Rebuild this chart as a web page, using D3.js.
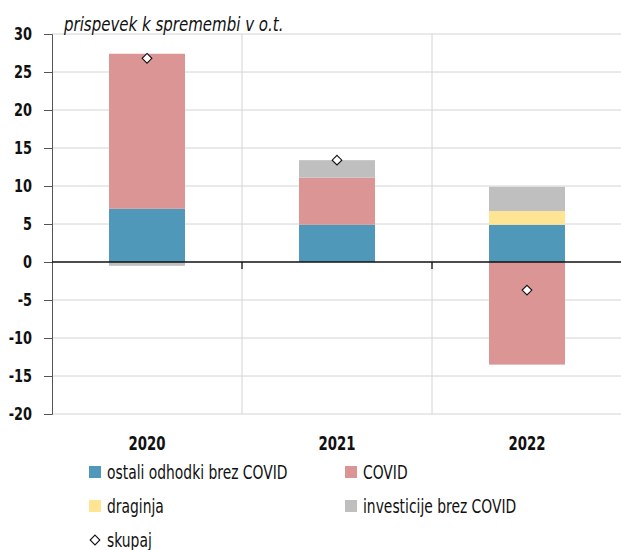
<!DOCTYPE html>
<html>
<head>
<meta charset="utf-8">
<title>Prispevek k spremembi</title>
<script src="https://cdnjs.cloudflare.com/ajax/libs/d3/7.8.5/d3.min.js"></script>
<style>
    body { margin: 0; background: #fff; }
    text { font-family: "DejaVu Sans", sans-serif; fill: #111; }
    .y-axis .tick text { font-size: 17px; font-weight: bold; }
    .x-axis .tick text { font-size: 19px; font-weight: bold; }
    .legend text { font-size: 19px; }
    .title { font-size: 19px; font-style: italic; }
</style>
</head>
<body>
<svg id="chart" width="621" height="550"></svg>
<script>
    var years = ["2020", "2021", "2022"];
    var seriesNames = ["ostali odhodki brez COVID", "COVID", "draginja", "investicije brez COVID"];
    var seriesColors = ["#4f98b9", "#da9594", "#ffe494", "#bfbfbf"];
    var ostali = [7.0, 4.9, 4.9];
    var covid = [20.4, 6.2, -13.5];
    var draginja = [0, 0, 1.8];
    var investicije = [-0.5, 2.3, 3.2];
    var skupaj = [26.8, 13.4, -3.7];
    var yTicks = [-20, -15, -10, -5, 0, 5, 10, 15, 20, 25, 30];

    var svg = d3.select("#chart"),
        plotLeft = 52, plotRight = 622, plotTop = 34, plotBottom = 414;

    // the original uses a narrow typeface, squeeze the text horizontally
    function condense(sel, k) {
        sel.each(function() {
            var w = this.getComputedTextLength();
            d3.select(this).attr("textLength", w * k).attr("lengthAdjust", "spacingAndGlyphs");
        });
    }

    var x = d3.scaleBand().domain(years).range([plotLeft, plotRight]).paddingInner(0.6).paddingOuter(0.3);
    var xGrid = d3.scaleBand().domain(years).range([plotLeft, plotRight]);
    var y = d3.scaleLinear().domain([-20, 30]).range([plotBottom, plotTop]);

    // gridlines
    svg.append("g").selectAll("line").data(yTicks.filter(function(d) { return d !== 0; }))
        .enter().append("line")
        .attr("x1", plotLeft).attr("x2", plotRight)
        .attr("y1", function(d) { return y(d); }).attr("y2", function(d) { return y(d); })
        .attr("stroke", "#d4d4d4").attr("stroke-width", 1);
    svg.append("g").selectAll("line").data(years.slice(1))
        .enter().append("line")
        .attr("x1", function(d) { return xGrid(d); }).attr("x2", function(d) { return xGrid(d); })
        .attr("y1", plotTop).attr("y2", plotBottom)
        .attr("stroke", "#d4d4d4").attr("stroke-width", 1);

    // stacked bars, positive and negative stacked separately
    var values = [ostali, covid, draginja, investicije];
    years.forEach(function(yr, i) {
        var pos = 0, neg = 0;
        values.forEach(function(arr, s) {
            var v = arr[i];
            if (!v) return;
            var y0, y1;
            if (v > 0) { y0 = pos; y1 = pos + v; pos = y1; }
            else { y0 = neg + v; y1 = neg; neg = y0; }
            svg.append("rect")
                .attr("x", x(yr)).attr("width", x.bandwidth())
                .attr("y", y(y1)).attr("height", y(y0) - y(y1))
                .attr("fill", seriesColors[s]);
        });
    });

    // y axis
    var yAxis = svg.append("g").attr("class", "y-axis").attr("transform", "translate(" + plotLeft + ",0)")
        .call(d3.axisLeft(y).tickValues(yTicks).tickSize(8).tickPadding(12)
            .tickFormat(function(d) { return String(d); }));
    yAxis.select(".domain").attr("stroke", "#555");
    yAxis.selectAll(".tick line").attr("stroke", "#555");
    yAxis.selectAll(".tick text").attr("fill", "#111").call(condense, 0.76);

    // zero line with category ticks
    svg.append("line").attr("x1", plotLeft).attr("x2", plotRight)
        .attr("y1", y(0)).attr("y2", y(0)).attr("stroke", "#111").attr("stroke-width", 1.3);
    svg.append("g").selectAll("line").data(years.slice(1))
        .enter().append("line")
        .attr("x1", function(d) { return xGrid(d); }).attr("x2", function(d) { return xGrid(d); })
        .attr("y1", y(0)).attr("y2", y(0) + 7)
        .attr("stroke", "#111").attr("stroke-width", 1.3);

    // x labels
    var xAxis = svg.append("g").attr("class", "x-axis").attr("transform", "translate(0," + plotBottom + ")")
        .call(d3.axisBottom(x).tickSize(0).tickPadding(23));
    xAxis.select(".domain").remove();
    xAxis.selectAll(".tick text").attr("fill", "#111").call(condense, 0.7);

    // total markers
    svg.append("g").selectAll("path").data(skupaj)
        .enter().append("path")
        .attr("d", d3.symbol().type(d3.symbolDiamond2).size(60))
        .attr("transform", function(d, i) { return "translate(" + (x(years[i]) + x.bandwidth() / 2) + "," + y(d) + ")"; })
        .attr("fill", "#fff").attr("stroke", "#111").attr("stroke-width", 1.1);

    // title
    svg.append("text").attr("class", "title").attr("x", 64).attr("y", 31)
        .text("prispevek k spremembi v o.t.")
        .call(condense, 0.79);

    // legend
    var legend = svg.append("g").attr("class", "legend");
    var lx = [89, 345], ly = [472, 506, 540];
    seriesNames.forEach(function(name, i) {
        var gx = lx[i % 2], gy = ly[Math.floor(i / 2)];
        legend.append("rect").attr("x", gx).attr("y", gy - 6).attr("width", 12).attr("height", 12)
            .attr("fill", seriesColors[i]);
        legend.append("text").attr("x", gx + 18).attr("y", gy + 7).text(name);
    });
    legend.append("path")
        .attr("d", d3.symbol().type(d3.symbolDiamond2).size(60))
        .attr("transform", "translate(" + (lx[0] + 6) + "," + (ly[2]) + ")")
        .attr("fill", "#fff").attr("stroke", "#111").attr("stroke-width", 1.1);
    legend.append("text").attr("x", lx[0] + 18).attr("y", ly[2] + 7).text("skupaj");
    legend.selectAll("text").call(condense, 0.73);
</script>
</body>
</html>
